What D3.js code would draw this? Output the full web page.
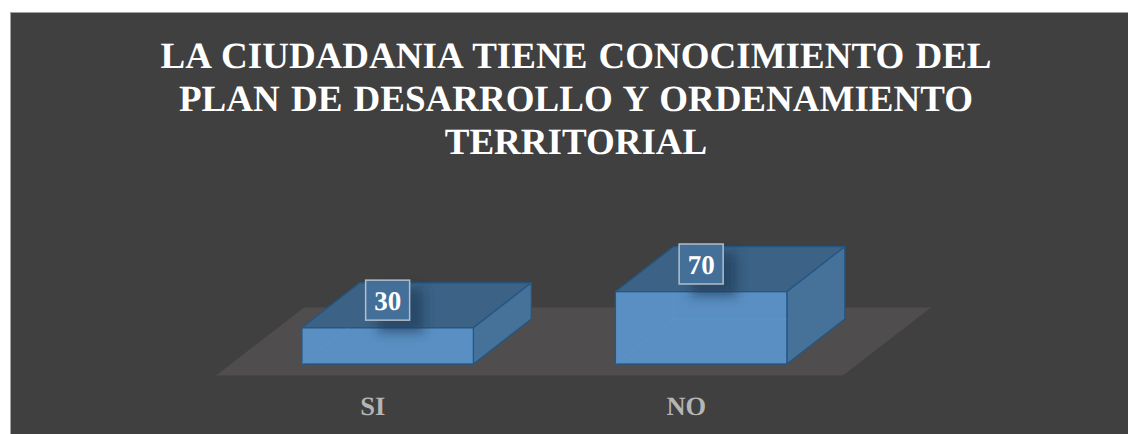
<!DOCTYPE html>
<html>
<head>
<meta charset="utf-8">
<script src="https://cdn.jsdelivr.net/npm/d3@7"></script>
<style>
  html, body { margin: 0; padding: 0; background: #fff; overflow: hidden; }
  text { font-family: "Liberation Serif", serif; font-weight: bold; text-rendering: geometricPrecision; }
</style>
</head>
<body>
<div id="chart"></div>
<script>
var categories = ["SI", "NO"];
var values = [30, 70];
var titleLines = [
    "LA CIUDADANIA TIENE CONOCIMIENTO DEL",
    "PLAN DE DESARROLLO Y ORDENAMIENTO",
    "TERRITORIAL"
];
var yDomain = [-10, 70];

var totalWidth = 1128, totalHeight = 434;

// floor of the 3d plot
var floorFront = 375.5, floorDepth = 68, floorShift = 88;
var floorLeft = 216, floorRight = 843;
var shear = floorShift / floorDepth;

// bar position inside the floor depth
var barGap = 11.5, barDepth = 45;

var svg = d3.select("#chart").append("svg")
    .attr("width", totalWidth)
    .attr("height", totalHeight)
    .style("display", "block");

var defs = svg.append("defs");
defs.append("filter").attr("id", "blur")
    .attr("x", "-50%").attr("y", "-50%").attr("width", "200%").attr("height", "200%")
    .append("feGaussianBlur").attr("stdDeviation", 6);

// background panel
svg.append("rect")
    .attr("x", 10.5).attr("y", 12.5)
    .attr("width", totalWidth).attr("height", totalHeight)
    .attr("fill", "#404040")
    .attr("stroke", "#a3a3a3")
    .attr("stroke-width", 1);

// title
svg.append("g").selectAll("text")
    .data(titleLines)
    .enter()
    .append("text")
    .attr("x", 576)
    .attr("y", function (d, i) { return 68 + i * 43; })
    .attr("text-anchor", "middle")
    .attr("font-size", 37)
    .attr("word-spacing", 2)
    .attr("fill", "#ffffff")
    .text(function (d) { return d; });

// scales
var xScale = d3.scaleBand()
    .domain(categories)
    .range([floorLeft, floorRight])
    .paddingInner(0.453)
    .paddingOuter(0.2265);

var baseY = floorFront - barGap;
var yScale = d3.scaleLinear()
    .domain(yDomain)
    .range([baseY, baseY - 72.3]);

function pts(list) {
    return list.map(function (p) { return p.join(","); }).join(" ");
}

// floor
svg.append("polygon")
    .attr("points", pts([
        [floorLeft, floorFront],
        [floorRight, floorFront],
        [floorRight + floorShift, floorFront - floorDepth],
        [floorLeft + floorShift, floorFront - floorDepth]
    ]))
    .attr("fill", "#4f4d4d");

// x axis, only the labels are visible
var axisG = svg.append("g")
    .attr("transform", "translate(0," + floorFront + ")")
    .call(d3.axisBottom(xScale).tickSize(0));
axisG.select(".domain").remove();
axisG.selectAll("text")
    .attr("y", 0)
    .attr("dy", 39.5)
    .attr("font-size", 26.5)
    .attr("font-family", "Liberation Serif")
    .attr("fill", "#b5b5b5");

// bars
var bars = svg.append("g").selectAll("g")
    .data(values)
    .enter()
    .append("g");

var dx = barDepth * shear * 0.995, dy = barDepth;
var barShift = barGap * shear;

function corners(d, i) {
    var x0 = xScale(categories[i]) + barShift;
    return { x0: x0, x1: x0 + xScale.bandwidth(), top: yScale(d), bottom: yScale(yDomain[0]) };
}

var edge = "#235785";

// top
bars.append("polygon")
    .attr("points", function (d, i) {
        var c = corners(d, i);
        return pts([[c.x0, c.top], [c.x0 + dx, c.top - dy], [c.x1 + dx, c.top - dy], [c.x1, c.top]]);
    })
    .attr("fill", "#3c6286")
    .attr("stroke", edge).attr("stroke-width", 1.3).attr("stroke-linejoin", "round");

// side
bars.append("polygon")
    .attr("points", function (d, i) {
        var c = corners(d, i);
        return pts([[c.x1, c.top], [c.x1 + dx, c.top - dy], [c.x1 + dx, c.bottom - dy], [c.x1, c.bottom]]);
    })
    .attr("fill", "#46729a")
    .attr("stroke", edge).attr("stroke-width", 1.3).attr("stroke-linejoin", "round");

// front
bars.append("rect")
    .attr("x", function (d, i) { return corners(d, i).x0; })
    .attr("y", function (d, i) { return corners(d, i).top; })
    .attr("width", xScale.bandwidth())
    .attr("height", function (d, i) { var c = corners(d, i); return c.bottom - c.top; })
    .attr("fill", "#5a8fc3")
    .attr("stroke", edge).attr("stroke-width", 1.3);

// inner edge lines showing through the front, cut at the top of the front face
bars.append("path")
    .attr("d", function (d, i) {
        var c = corners(d, i);
        var by = c.bottom - dy;
        if (by < c.top) {
            var t = (c.bottom - c.top) / dy;
            return "M" + c.x0 + "," + c.bottom + "L" + (c.x0 + dx * t) + "," + c.top;
        }
        var bx = c.x0 + dx;
        return "M" + c.x0 + "," + c.bottom + "L" + bx + "," + by + "L" + c.x1 + "," + by +
            "M" + bx + "," + by + "L" + bx + "," + c.top;
    })
    .attr("fill", "none")
    .attr("stroke", "#5b9ad6").attr("stroke-width", 1).attr("stroke-opacity", 0.4);

// value labels
var labelSize = 44;
var labels = svg.append("g").selectAll("g")
    .data(values)
    .enter()
    .append("g")
    .attr("transform", function (d, i) {
        var c = corners(d, i);
        return "translate(" + ((c.x0 + c.x1) / 2) + "," + (c.top - 27.7) + ")";
    });

labels.append("rect")
    .attr("x", -labelSize / 2 + 12).attr("y", -labelSize / 2 + 10)
    .attr("width", labelSize + 2).attr("height", labelSize)
    .attr("fill", "#1f3a57").attr("fill-opacity", 0.65)
    .attr("filter", "url(#blur)");

labels.append("rect")
    .attr("x", -labelSize / 2).attr("y", -20)
    .attr("width", labelSize).attr("height", 40)
    .attr("fill", "#436f98")
    .attr("stroke", "#b3bfca").attr("stroke-width", 1.5);

labels.append("text")
    .attr("text-anchor", "middle")
    .attr("y", 9.5)
    .attr("font-size", 27)
    .attr("fill", "#ffffff")
    .text(function (d) { return d; });
</script>
</body>
</html>
